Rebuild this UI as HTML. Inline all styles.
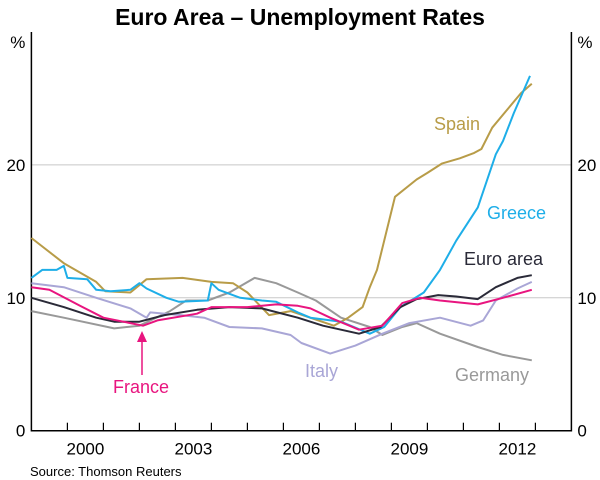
<!DOCTYPE html>
<html><head><meta charset="utf-8"><style>
body{margin:0;background:#fff;}
svg{display:block;font-family:"Liberation Sans",Arial,sans-serif;}
</style></head><body>
<svg id="chart" width="600" height="480" viewBox="0 0 600 480">
<text x="300" y="25" text-anchor="middle" font-size="23" font-weight="bold">Euro Area – Unemployment Rates</text>
<g id="grid"></g><g id="axes"></g><g id="series"></g><g id="labels"></g>
<text x="30" y="476" font-size="13">Source: Thomson Reuters</text>
</svg>
<script>
const yTicks=[0,10,20];
const xLabels=[2000,2003,2006,2009,2012];
const spainX=[1999.0,1999.9,2000.8,2001.05,2001.75,2002.2,2003.2,2004.0,2004.6,2005.0,2005.6,2006.2,2007.4,2007.8,2008.2,2008.4,2008.6,2009.1,2009.7,2010.0,2010.4,2010.9,2011.3,2011.5,2011.8,2012.2,2012.6,2012.9];
const spainY=[14.5,12.6,11.2,10.5,10.4,11.4,11.5,11.2,11.1,10.4,8.7,9.0,7.9,8.5,9.3,10.8,12.1,17.6,18.9,19.4,20.1,20.5,20.9,21.2,22.8,24.1,25.4,26.1];
const greeceX=[1999.0,1999.3,1999.7,1999.9,2000.0,2000.55,2000.8,2001.2,2001.75,2002.0,2002.2,2002.75,2003.1,2003.9,2004.0,2004.2,2004.8,2005.4,2005.8,2006.4,2006.75,2007.6,2008.4,2008.8,2009.25,2009.9,2010.35,2010.8,2011.4,2011.9,2012.1,2012.4,2012.85];
const greeceY=[11.5,12.1,12.1,12.4,11.5,11.4,10.6,10.5,10.6,11.1,10.7,10.0,9.7,9.8,11.1,10.6,10.0,9.8,9.7,8.9,8.5,8.2,7.3,7.8,9.3,10.4,12.1,14.3,16.8,20.8,21.8,23.9,26.7];
const euroX=[1999.0,1999.9,2000.8,2001.3,2002.0,2002.7,2003.6,2004.5,2005.4,2006.4,2007.1,2008.1,2008.7,2009.25,2009.7,2010.3,2010.8,2011.4,2011.9,2012.5,2012.9];
const euroY=[10.0,9.3,8.5,8.2,8.2,8.7,9.1,9.3,9.2,8.5,7.9,7.3,7.8,9.3,9.9,10.2,10.1,9.9,10.8,11.5,11.7];
const franceX=[1999.0,1999.5,2000.35,2001.0,2001.75,2002.1,2002.5,2003.6,2004.0,2005.0,2005.8,2006.4,2006.75,2007.3,2008.1,2008.75,2009.3,2009.8,2010.35,2011.4,2012.1,2012.9];
const franceY=[10.8,10.6,9.4,8.5,8.1,7.9,8.3,8.8,9.3,9.3,9.5,9.4,9.2,8.5,7.6,7.9,9.6,10.0,9.8,9.5,10.0,10.6];
const italyX=[1999.0,1999.9,2000.8,2001.75,2002.2,2002.3,2003.15,2003.8,2004.5,2005.4,2006.2,2006.5,2007.3,2008.0,2008.75,2009.5,2010.35,2011.2,2011.55,2011.9,2012.5,2012.9];
const italyY=[11.1,10.8,10.0,9.2,8.5,8.9,8.7,8.5,7.8,7.7,7.2,6.6,5.8,6.4,7.3,8.1,8.5,7.9,8.3,9.8,10.7,11.2];
const germanyX=[1999.0,1999.9,2001.3,2002.0,2002.85,2003.3,2003.9,2004.5,2005.2,2005.8,2006.4,2006.9,2007.6,2008.4,2008.75,2009.3,2009.7,2010.35,2011.4,2012.1,2012.9];
const germanyY=[9.0,8.5,7.7,7.9,9.0,9.8,9.8,10.4,11.5,11.1,10.4,9.8,8.5,7.8,7.2,7.8,8.1,7.3,6.3,5.7,5.3];

const NS="http://www.w3.org/2000/svg";
const L=31.4,R=571.4,T=32,B=430.7;
const X0=1999,X1=2014,Y0=0,Y1=30;
function xs(t){return L+(t-X0)/(X1-X0)*(R-L);}
function ys(v){return B-(v-Y0)/(Y1-Y0)*(B-T);}
function mk(tag,attrs,parent){const e=document.createElementNS(NS,tag);for(const k in attrs)e.setAttribute(k,attrs[k]);parent.appendChild(e);return e;}
const grid=document.getElementById('grid'),axes=document.getElementById('axes'),series=document.getElementById('series'),labels=document.getElementById('labels');

yTicks.forEach(v=>{
  if(v>0){const g=mk('line',{x1:L,x2:R,y1:ys(v),y2:ys(v),stroke:'#c8c8c8','stroke-width':1},grid);
  
  }
  const a=mk('text',{x:L-6,y:ys(v)+6,'text-anchor':'end','font-size':17},axes);a.textContent=v;
  
  
  const b=mk('text',{x:R+6,y:ys(v)+6,'text-anchor':'start','font-size':17},axes);b.textContent=v;
  
  
});
[['%',L-6,'end'],['%',R+6,'start']].forEach((p,i)=>{const t=mk('text',{x:p[1],y:48,'text-anchor':p[2],'font-size':17},axes);t.textContent=p[0];
  
  });
const frame=mk('path',{d:`M${L},${T}V${B}H${R}V${T}`,fill:'none',stroke:'#000','stroke-width':1.5},axes);


for(let yr=X0+1;yr<X1;yr++){const tk=mk('line',{x1:xs(yr),x2:xs(yr),y1:B,y2:B-8,stroke:'#000','stroke-width':1.2},axes);
  
  }
xLabels.forEach(yr=>{const t=mk('text',{x:xs(yr+0.5),y:B+24,'text-anchor':'middle','font-size':17},axes);t.textContent=yr;
  
  });

function line(xa,ya,color,name){
  const d=xa.map((t,i)=>(i?'L':'M')+xs(t).toFixed(1)+','+ys(ya[i]).toFixed(1)).join('');
  const p=mk('path',{d:d,fill:'none',stroke:color,'stroke-width':2,'stroke-linejoin':'round'},series);
  
  
}
line(germanyX,germanyY,'#999999','germany-line');
line(italyX,italyY,'#a9a6d6','italy-line');
line(spainX,spainY,'#b89c48','spain-line');
line(greeceX,greeceY,'#1eaee8','greece-line');
line(euroX,euroY,'#2a2a38','euro-area-line');
line(franceX,franceY,'#e8157f','france-line');

function lab(txt,x,y,color,name){const t=mk('text',{x:x,y:y,'font-size':18,fill:color},labels);t.textContent=txt;
  
  }
lab('Spain',434,130,'#b89c48','spain-label');
lab('Greece',487,219,'#1eaee8','greece-label');
lab('Euro area',464,265,'#2a2a38','euro-area-label');
lab('Italy',305,377,'#a9a6d6','italy-label');
lab('Germany',455,381,'#999999','germany-label');
lab('France',113,393,'#e8157f','france-label');
const ar=mk('line',{x1:142,x2:142,y1:375,y2:340,stroke:'#e8157f','stroke-width':1.5},labels);


const ah=mk('path',{d:'M137,342L142,331L147,342Z',fill:'#e8157f'},labels);


</script>
</body></html>
